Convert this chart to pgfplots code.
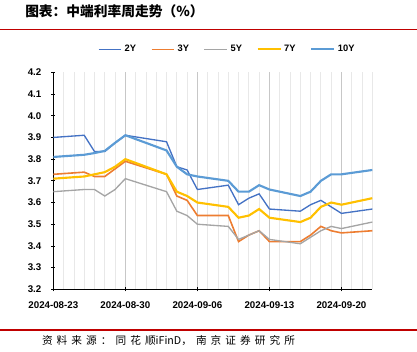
\documentclass[border=0pt]{standalone}
\usepackage{pgfplots}
\pgfplotsset{compat=1.18}
\usepackage{fontspec}
\setmainfont{Liberation Sans}
\newfontfamily\cjk{Noto Sans CJK SC}
\newfontfamily\cjksrc[LetterSpace=38]{Noto Sans CJK SC}
\definecolor{c2}{HTML}{4472C4}
\definecolor{c3}{HTML}{ED7D31}
\definecolor{c5}{HTML}{A5A5A5}
\definecolor{c7}{HTML}{FFC000}
\definecolor{c10}{HTML}{5B9BD5}
\definecolor{redline}{HTML}{C00000}
\begin{document}
\begin{tikzpicture}
\useasboundingbox (0,0) rectangle (312.75pt,264pt);
\node[anchor=west, inner sep=0] at (18.75pt,255.2pt) {\cjk\bfseries\fontsize{10.3}{12}\selectfont 图表：中端利率周走势（\%）};
\draw[redline, line width=0.8pt] (0,242pt) -- (312.75pt,242pt);
\draw[redline, line width=0.8pt] (0,16.5pt) -- (312.75pt,16.5pt);
\node[anchor=west, inner sep=0] at (31.3pt,8.25pt) {\fontsize{8}{10}\selectfont{\cjksrc 资料来源：同花顺}{\cjk iFinD}{\cjksrc ，南京证券研究所}};
\begin{axis}[
  at={(40pt,47pt)}, anchor=south west,
  scale only axis, width=239.25pt, height=162.75pt,
  xmin=0, xmax=31, ymin=3.2, ymax=4.2,
  axis x line*=bottom, axis y line*=left,
  axis line style={-, black, line width=0.8pt},
  xtick={0,7,14,21,28},
  xticklabels={2024-08-23,2024-08-30,2024-09-06,2024-09-13,2024-09-20},
  minor xtick={0,...,31},
  xmajorgrids, xminorgrids,
  major grid style={color=black!22, line width=0.8pt},
  minor grid style={color=black!9, line width=0.6pt},
  ytick={3.2,3.3,3.4,3.5,3.6,3.7,3.8,3.9,4.0,4.1,4.2},
  yticklabel style={/pgf/number format/fixed, /pgf/number format/precision=1, /pgf/number format/fixed zerofill, xshift=-4pt},
  xticklabel style={yshift=-4pt},
  /pgf/number format/assume math mode=true,
  ticklabel style={font=\bfseries\fontsize{7.3}{8}\selectfont},
  tick align=center, major tick length=3pt, minor tick length=0pt,
  tick style={black, line width=0.6pt},
  legend style={at={(0.546,1.106)}, anchor=center, draw=none, fill=none,
    legend columns=5, font=\bfseries\fontsize{7}{8}\selectfont,
    /tikz/every even column/.append style={column sep=9pt}},
  legend cell align=left,
]
\addplot[c2, line width=1.0pt] coordinates {
(0,3.90)(3,3.91)(4,3.835)(5,3.835)(6,3.875)(7,3.91)(11,3.88)(12,3.765)(13,3.75)(14,3.66)
(17,3.68)(18,3.59)(19,3.62)(20,3.64)(21,3.57)(24,3.56)(25,3.59)(26,3.61)(27,3.58)(28,3.55)(31,3.57)};
\addlegendentry{2Y}
\addplot[c3, line width=1.2pt] coordinates {
(0,3.73)(3,3.74)(4,3.72)(5,3.72)(6,3.755)(7,3.79)(11,3.73)(12,3.63)(13,3.61)(14,3.54)
(17,3.54)(18,3.42)(19,3.45)(20,3.47)(21,3.42)(24,3.42)(25,3.45)(26,3.49)(27,3.47)(28,3.46)(31,3.47)};
\addlegendentry{3Y}
\addplot[c5, line width=1.0pt] coordinates {
(0,3.65)(3,3.66)(4,3.66)(5,3.63)(6,3.66)(7,3.71)(11,3.65)(12,3.56)(13,3.54)(14,3.50)
(17,3.49)(18,3.43)(19,3.45)(20,3.47)(21,3.43)(24,3.41)(25,3.44)(26,3.47)(27,3.49)(28,3.48)(31,3.51)};
\addlegendentry{5Y}
\addplot[c7, line width=1.6pt] coordinates {
(0,3.71)(3,3.72)(4,3.73)(5,3.74)(6,3.765)(7,3.80)(11,3.73)(12,3.65)(13,3.63)(14,3.60)
(17,3.58)(18,3.53)(19,3.54)(20,3.57)(21,3.53)(24,3.51)(25,3.53)(26,3.58)(27,3.60)(28,3.59)(31,3.62)};
\addlegendentry{7Y}
\addplot[c10, line width=1.6pt] coordinates {
(0,3.81)(3,3.82)(4,3.828)(5,3.838)(6,3.875)(7,3.91)(11,3.84)(12,3.765)(13,3.73)(14,3.72)
(17,3.70)(18,3.65)(19,3.65)(20,3.68)(21,3.66)(24,3.63)(25,3.65)(26,3.70)(27,3.73)(28,3.73)(31,3.75)};
\addlegendentry{10Y}
\end{axis}
\end{tikzpicture}
\end{document}
